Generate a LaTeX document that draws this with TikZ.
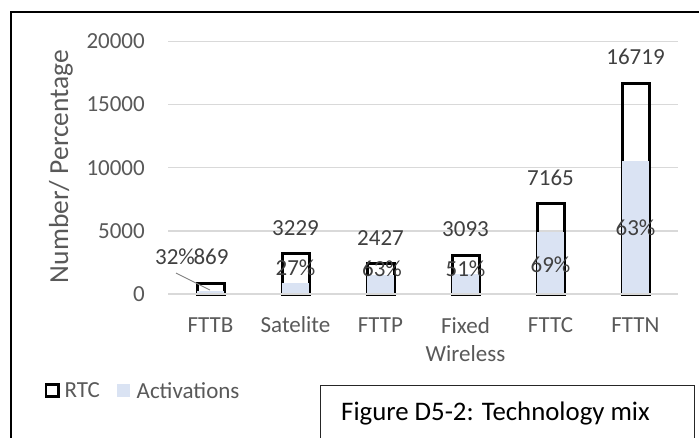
\documentclass[tikz,border=0pt]{standalone}
\usepackage{fontspec}
\setmainfont{Carlito}
\definecolor{txtgray}{HTML}{595959}
\definecolor{lblgray}{HTML}{404040}
\definecolor{gridgray}{HTML}{D9D9D9}
\definecolor{actblue}{HTML}{DAE3F3}
\tikzset{
  ticklbl/.style={anchor=east, inner sep=0pt, text=txtgray, font=\fontsize{23}{27}\selectfont},
  catlbl/.style={inner sep=0pt, text=txtgray, font=\fontsize{23}{28}\selectfont, align=center},
  vallbl/.style={inner sep=0pt, text=lblgray, font=\fontsize{23}{27}\selectfont},
  gridline/.style={draw=gridgray, line width=1.3pt},
  rtcbar/.style={draw=black, line width=3pt},
  actbar/.style={fill=actblue},
}
\begin{document}
\begin{tikzpicture}[x=1pt, y=-1pt]
\useasboundingbox (0,0) rectangle (699,437);
\fill[white] (0,0) rectangle (699,437);
% outer frame (top and left edges)
\draw[line width=2.2pt] (11,440) -- (11,12) -- (702,12);

% horizontal grid and tick labels
\foreach \v/\yy in {20000/41.5, 15000/104.6, 10000/167.7, 5000/230.9} {
  \draw[gridline] (168,\yy) -- (678,\yy);
  \node[ticklbl] (t\v) at (145,\yy) {\v};
}
\node[ticklbl] (t0) at (145,294) {0};

% axis title
\node[inner sep=0pt, text=txtgray, font=\fontsize{27.5}{32}\selectfont, rotate=90]
  (ytitle) at (61,166.5) {Number/ Percentage};

% bars: centre x / RTC top / activations top
\foreach \n/\cx/\rt/\at in {a/210.5/283.0/290.5, b/295.5/253.3/283.0, c/380.5/263.4/274.7,
                            d/465.5/255.0/274.1, e/550.5/203.6/231.6, f/635.5/83.0/161.1} {
  \draw[rtcbar] (\cx-13.5,294) rectangle (\cx+13.5,\rt);
  \fill[actbar] (\cx-13.5,294) rectangle (\cx+13.5,\at);
}
\draw[gridline] (168,294) -- (678,294);

% category labels
\node[catlbl] (cFTTB) at (210.5,325) {FTTB};
\node[catlbl] (cSat) at (295.5,325) {Satelite};
\node[catlbl] (cFTTP) at (380.5,325) {FTTP};
\node[catlbl] (cFW) at (465.5,339.5) {Fixed\\Wireless};
\node[catlbl] (cFTTC) at (550.5,325) {FTTC};
\node[catlbl] (cFTTN) at (635.5,325) {FTTN};

% RTC values
\node[vallbl] (vFTTB) at (211,257) {869};
\node[vallbl] (vSat) at (295.5,228) {3229};
\node[vallbl] (vFTTP) at (380.5,238) {2427};
\node[vallbl] (vFW) at (465.5,229) {3093};
\node[vallbl] (vFTTC) at (550.5,178) {7165};
\node[vallbl] (vFTTN) at (635.5,57) {16719};

% activation shares
\node[vallbl] (pFTTB) at (175,257) {32\%};
\node[vallbl] (pSat) at (295.5,268) {27\%};
\node[vallbl] (pFTTP) at (382,269) {63\%};
\node[vallbl] (pFW) at (465.5,269) {51\%};
\node[vallbl] (pFTTC) at (550.5,265) {69\%};
\node[vallbl] (pFTTN) at (635.5,228) {63\%};
\coordinate (lead) at (210,290);
\draw[draw=gray, line width=0.9pt] (176,273) -- (lead);

% legend
\draw[line width=2.5pt] (46,384.5) rectangle (58.5,396.5) coordinate (legRTC);
\node[catlbl, anchor=west] (lRTC) at (64.5,390.5) {RTC};
\fill[actblue] (117,384) rectangle (130,397);
\node[catlbl, anchor=west] (lAct) at (136.5,390.5) {Activations};

% caption box
\draw[draw=black!85, line width=1.3pt] (320.5,445) -- (320.5,385.5) -- (694.5,385.5) -- (694.5,445);
\node[inner sep=0pt, anchor=west, font=\fontsize{26.8}{31}\selectfont] (caption) at (341,413) {Figure D5-2: Technology mix};
\end{tikzpicture}
\end{document}
